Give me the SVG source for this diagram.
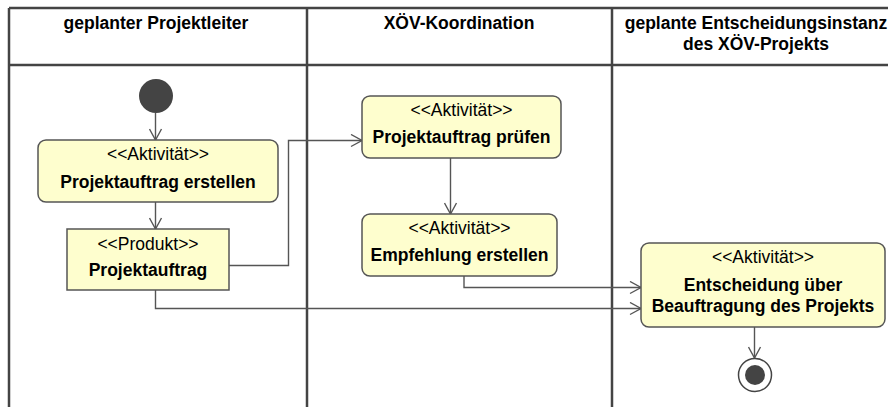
<svg xmlns="http://www.w3.org/2000/svg" width="888" height="407" viewBox="0 0 888 407">
<style>
  .frame { stroke: #444; stroke-width: 2.5; fill: none; }
  .node { fill: #FEFECE; stroke: #555; stroke-width: 1.5; }
  .edge { stroke: #555; stroke-width: 1.4; fill: none; }
  text { font-family: "Liberation Sans", Arial, sans-serif; font-size: 17.5px; fill: #000; text-anchor: middle; }
  .b { font-weight: bold; }
</style>
<defs>
  <marker id="arr" markerUnits="userSpaceOnUse" markerWidth="14" markerHeight="14" viewBox="0 0 14 14" refX="12" refY="7" orient="auto">
    <path d="M1,1 L12,7 L1,13" fill="none" stroke="#555" stroke-width="1.4"/>
  </marker>
</defs>
<rect width="888" height="407" fill="#fff"/>
<g id="swimlanes">
  <line class="frame" x1="9" y1="8" x2="900" y2="8"/>
  <line class="frame" x1="9" y1="65" x2="900" y2="65"/>
  <line class="frame" x1="9" y1="8" x2="9" y2="410"/>
  <line class="frame" x1="307" y1="8" x2="307" y2="410"/>
  <line class="frame" x1="612" y1="8" x2="612" y2="410"/>
  <text class="b" x="156" y="29">geplanter Projektleiter</text>
  <text class="b" x="459" y="29">XÖV-Koordination</text>
  <text class="b" x="756" y="29">geplante Entscheidungsinstanz</text>
  <text class="b" x="756" y="50">des XÖV-Projekts</text>
</g>
<g id="connectors">
  <path class="edge" d="M155.5,113 V140" marker-end="url(#arr)"/>
  <path class="edge" d="M155.5,202 V229" marker-end="url(#arr)"/>
  <path class="edge" d="M229,265.5 H288.5 V140.5 H362" marker-end="url(#arr)"/>
  <path class="edge" d="M450.5,158 V214" marker-end="url(#arr)"/>
  <path class="edge" d="M464,276 V287.5 H641" marker-end="url(#arr)"/>
  <path class="edge" d="M155.5,290 V308.5 H641" marker-end="url(#arr)"/>
  <path class="edge" d="M754.5,327 V358" marker-end="url(#arr)"/>
</g>
<g id="start">
  <circle cx="156" cy="96" r="17" fill="#444"/>
</g>
<g id="a1">
  <rect class="node" x="38" y="140" width="240" height="62" rx="8"/>
  <text x="158" y="160">&lt;&lt;Aktivität&gt;&gt;</text>
  <text class="b" x="158" y="188">Projektauftrag erstellen</text>
</g>
<g id="p1">
  <rect class="node" x="67" y="229" width="162" height="61"/>
  <text x="148" y="250">&lt;&lt;Produkt&gt;&gt;</text>
  <text class="b" x="148" y="276">Projektauftrag</text>
</g>
<g id="a2">
  <rect class="node" x="362" y="96" width="199" height="62" rx="8"/>
  <text x="461.5" y="116">&lt;&lt;Aktivität&gt;&gt;</text>
  <text class="b" x="461.5" y="143">Projektauftrag prüfen</text>
</g>
<g id="a3">
  <rect class="node" x="362" y="214" width="195" height="62" rx="8"/>
  <text x="459.5" y="234">&lt;&lt;Aktivität&gt;&gt;</text>
  <text class="b" x="459.5" y="261">Empfehlung erstellen</text>
</g>
<g id="a4">
  <rect class="node" x="641" y="243" width="244" height="84" rx="8"/>
  <text x="763" y="263">&lt;&lt;Aktivität&gt;&gt;</text>
  <text class="b" x="763" y="291">Entscheidung über</text>
  <text class="b" x="763" y="312">Beauftragung des Projekts</text>
</g>
<g id="end">
  <circle cx="755" cy="375" r="16.5" fill="#fff" stroke="#444" stroke-width="1.5"/>
  <circle cx="755" cy="375" r="10" fill="#444"/>
</g>
</svg>
